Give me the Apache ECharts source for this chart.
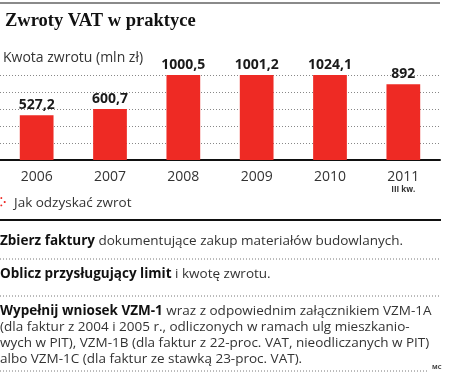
<!DOCTYPE html>
<html>
<head>
<meta charset="utf-8">
<script src="https://cdn.jsdelivr.net/npm/echarts@6/dist/echarts.min.js"></script>
<style>
  html, body { margin: 0; padding: 0; background: #fff; }
  #chart { width: 456px; height: 376px; }
</style>
</head>
<body>
<div id="chart"></div>
<script>
const years = ["2006", "2007", "2008", "2009", "2010", "2011"];
const values = [527.2, 600.7, 1000.5, 1001.2, 1024.1, 892];
const valueLabels = ["527,2", "600,7", "1000,5", "1001,2", "1024,1", "892"];
const yTicks = [0, 200, 400, 600, 800, 1000];

const SANS = "'Open Sans', 'Noto Sans', sans-serif";
const RED = "#ee2a24";
const DARK = "#1a1a1a";
const BODY = 13.5;

const chart = echarts.init(document.getElementById("chart"));

function dotted(y) {
  return {
    type: "line",
    shape: { x1: 0, y1: y, x2: 441, y2: y },
    style: { stroke: "#777", lineWidth: 1, lineDash: [1, 2] },
    silent: true,
  };
}

const boldRich = { b: { fontWeight: "bold", fill: "#111", fontFamily: SANS, fontSize: BODY, lineHeight: 16 } };

const option = {
  backgroundColor: "#fff",
  animation: false,
  grid: { left: 0, right: 16, top: 75, bottom: 216 },
  xAxis: {
    type: "category",
    data: years,
    axisLine: { lineStyle: { color: "#111", width: 2 } },
    axisTick: { show: false },
    axisLabel: {
      interval: 0,
      margin: 10,
      color: "#333",
      fontFamily: SANS,
      fontSize: 14,
      lineHeight: 14,
      formatter: (v) => (v === "2011" ? "2011\n{s|III kw.}" : v),
      rich: {
        s: { fontSize: 8, fontWeight: "bold", lineHeight: 12, color: "#333", fontFamily: SANS },
      },
    },
  },
  yAxis: {
    type: "value",
    min: 0,
    max: yTicks[yTicks.length - 1],
    interval: 200,
    axisLabel: { show: false },
    axisLine: { show: false },
    axisTick: { show: false },
    splitLine: { lineStyle: { color: "#888", type: [1, 2], width: 1 } },
  },
  series: [
    {
      type: "bar",
      data: values,
      barWidth: "46%",
      itemStyle: { color: RED },
      label: {
        show: true,
        position: "top",
        distance: 3,
        color: DARK,
        fontFamily: SANS,
        fontWeight: "bold",
        fontSize: 14,
        formatter: (p) => valueLabels[p.dataIndex],
      },
    },
  ],
  graphic: [
    {
      type: "line",
      shape: { x1: 0, y1: 3, x2: 440, y2: 3 },
      style: { stroke: "#8a8a8a", lineWidth: 2 },
    },
    {
      type: "text",
      left: 5,
      top: 12,
      style: {
        text: "Zwroty VAT w praktyce",
        fontFamily: "'Liberation Serif', serif",
        fontWeight: "bold",
        fontSize: 18.5,
        fill: "#111",
      },
    },
    {
      type: "text",
      left: 3,
      top: 51,
      style: {
        text: "Kwota zwrotu (mln zł)",
        fontFamily: SANS,
        fontSize: 14,
        fill: "#333",
      },
    },
    {
      type: "text",
      left: 0,
      top: 197,
      style: { text: "⁚·", fontSize: 12, fill: RED, fontWeight: "bold" },
    },
    {
      type: "text",
      left: 14,
      top: 196,
      style: { text: "Jak odzyskać zwrot", fontFamily: SANS, fontSize: BODY, fill: "#333" },
    },
    {
      type: "line",
      shape: { x1: 0, y1: 220, x2: 441, y2: 220 },
      style: { stroke: "#111", lineWidth: 2 },
    },
    {
      type: "text",
      left: 0,
      top: 234,
      style: {
        text: "{b|Zbierz faktury} dokumentujące zakup materiałów budowlanych.",
        fontFamily: SANS,
        fontSize: BODY,
        fill: "#333",
        rich: boldRich,
      },
    },
    dotted(259),
    {
      type: "text",
      left: 0,
      top: 267,
      style: {
        text: "{b|Oblicz przysługujący limit} i kwotę zwrotu.",
        fontFamily: SANS,
        fontSize: BODY,
        fill: "#333",
        rich: boldRich,
      },
    },
    dotted(296),
    {
      type: "text",
      left: 0,
      top: 303,
      style: {
        text:
          "{b|Wypełnij wniosek VZM-1} wraz z odpowiednim załącznikiem VZM-1A\n" +
          "(dla faktur z 2004 i 2005 r., odliczonych w ramach ulg mieszkanio-\n" +
          "wych w PIT), VZM-1B (dla faktur z 22-proc. VAT, nieodliczanych w PIT)\n" +
          "albo VZM-1C (dla faktur ze stawką 23-proc. VAT).",
        fontFamily: SANS,
        fontSize: BODY,
        lineHeight: 16,
        fill: "#333",
        rich: boldRich,
      },
    },
    {
      type: "line",
      shape: { x1: 0, y1: 371, x2: 428, y2: 371 },
      style: { stroke: "#777", lineWidth: 1, lineDash: [1, 2] },
    },
    {
      type: "text",
      left: 432,
      top: 364,
      style: { text: "MC", fontFamily: SANS, fontSize: 6, fontWeight: "bold", fill: "#333" },
    },
  ],
};

chart.setOption(option);
</script>
</body>
</html>
